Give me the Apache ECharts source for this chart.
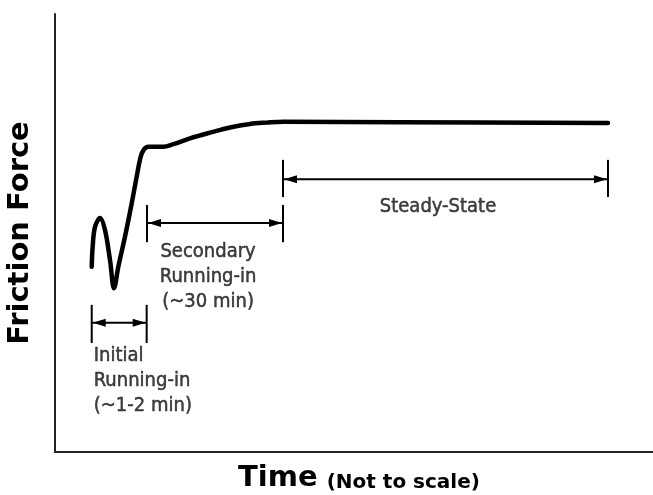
<!DOCTYPE html>
<html>
<head>
<meta charset="utf-8">
<script src="https://cdn.jsdelivr.net/npm/echarts@6/dist/echarts.min.js"></script>
<style>
  html, body { margin: 0; padding: 0; background: #fff; }
  #container { width: 653px; height: 495px; }
</style>
</head>
<body>
<div id="container"></div>
<script>
let chart = echarts.init(document.getElementById('container'));

// friction curve (time in % of plot width, force in % of plot height)
var curveTime = [6.14, 6.30, 6.69, 7.53, 8.36, 9.20, 9.87, 10.59, 11.71, 12.83, 13.76, 14.33, 14.88, 15.60,
    18.11, 19.78, 22.58, 25.92, 29.26, 32.61, 35.40, 38.18, 57.69, 92.47];
var curveForce = [42.3, 46.9, 51.4, 53.4, 50.7, 43.8, 37.4, 42.3, 49.2, 56.8, 63.6, 67.4, 69.1, 69.7,
    69.7, 70.3, 71.6, 72.9, 74.1, 74.9, 75.2, 75.4, 75.3, 75.1];

// running-in / steady-state spans
var spanNames = ['Initial\nRunning-in\n(~1-2 min)', 'Secondary\nRunning-in\n(~30 min)', 'Steady-State'];
var spanStart = [6.14, 15.38, 38.13];
var spanEnd = [15.33, 38.13, 92.47];
var spanLevel = [29.5, 52.3, 62.3];
var barTop = [33.6, 56.4, 66.7];
var barBottom = [24.9, 47.9, 58.2];
var labelTime = [6.4, 25.6, 64.05];
var labelForce = [16.2, 40.0, 55.9];

var headLen = 14;
var headHalf = 4;

function renderSpan(params, api) {
    let x1 = api.coord([api.value(0), api.value(2)]);
    let x2 = api.coord([api.value(1), api.value(2)]);
    let top = api.coord([api.value(0), api.value(3)])[1];
    let bottom = api.coord([api.value(0), api.value(4)])[1];
    let y = x1[1];
    let stroke = {stroke: '#000', lineWidth: 2};
    return {
        type: 'group',
        children: [
            {type: 'line', shape: {x1: x1[0], y1: y, x2: x2[0], y2: y}, style: stroke},
            {type: 'line', shape: {x1: x1[0], y1: top, x2: x1[0], y2: bottom}, style: stroke},
            {type: 'line', shape: {x1: x2[0], y1: top, x2: x2[0], y2: bottom}, style: stroke},
            {type: 'polygon', shape: {points: [[x1[0] + 1, y], [x1[0] + headLen, y - headHalf], [x1[0] + headLen, y + headHalf]]}, style: {fill: '#000'}},
            {type: 'polygon', shape: {points: [[x2[0] - 1, y], [x2[0] - headLen, y - headHalf], [x2[0] - headLen, y + headHalf]]}, style: {fill: '#000'}},
        ],
    };
}

var textStyle = {
    show: true,
    color: '#111',
    fontFamily: 'DejaVu Sans Condensed',
    fontSize: 20,
    lineHeight: 25,
    textBorderColor: '#111',
    textBorderWidth: 0.5,
    formatter: p => spanNames[p.dataIndex],
};

var option = {
    animation: false,
    grid: {
        left: 55,
        right: 0,
        top: 14,
        bottom: 43,
        outerBoundsMode: 'none',
    },
    xAxis: {
        type: 'value',
        min: 0,
        max: 100,
        name: '{a|Time}{b|(Not to scale)}',
        nameLocation: 'middle',
        nameGap: 7,
        nameTextStyle: {
            rich: {
                a: {fontFamily: 'DejaVu Sans', fontWeight: 'bold', fontSize: 29, color: '#000', verticalAlign: 'bottom', lineHeight: 34, padding: [0, 0, 0, 10]},
                b: {fontFamily: 'DejaVu Sans', fontWeight: 'bold', fontSize: 20, color: '#000', verticalAlign: 'bottom', lineHeight: 34, padding: [0, 0, 0, 9]},
            },
        },
        axisLine: {onZero: false, lineStyle: {color: '#222', width: 2}},
        axisTick: {show: false},
        axisLabel: {show: false},
        splitLine: {show: false},
    },
    yAxis: {
        type: 'value',
        min: 0,
        max: 100,
        name: 'Friction Force',
        nameLocation: 'middle',
        nameRotate: 90,
        nameGap: 20,
        nameTextStyle: {fontFamily: 'DejaVu Sans', fontWeight: 'bold', fontSize: 29, color: '#000'},
        axisLine: {show: true, onZero: false, lineStyle: {color: '#222', width: 2}},
        axisTick: {show: false},
        axisLabel: {show: false},
        splitLine: {show: false},
    },
    series: [
        {
            type: 'line',
            data: curveTime.map((t, i) => [t, curveForce[i]]),
            smooth: 0.35,
            showSymbol: false,
            silent: true,
            lineStyle: {color: '#000', width: 4.5, cap: 'round', join: 'round'},
        },
        {
            type: 'custom',
            silent: true,
            renderItem: renderSpan,
            data: spanStart.map((s, i) => [s, spanEnd[i], spanLevel[i], barTop[i], barBottom[i]]),
        },
        {
            type: 'scatter',
            silent: true,
            symbolSize: 1,
            itemStyle: {color: 'rgba(0,0,0,0)'},
            data: labelTime.map((t, i) => [t, labelForce[i]]),
            label: textStyle,
            labelLayout: {hideOverlap: false},
        },
    ],
};
// per-label placement
option.series[2].data = option.series[2].data.map((d, i) => {
    if (i == 0) {
        return {value: d, label: {position: 'right', distance: 0, align: 'left'}};
    }
    return {value: d, label: {position: 'inside', align: 'center'}};
});
chart.setOption(option);
</script>
</body>
</html>
